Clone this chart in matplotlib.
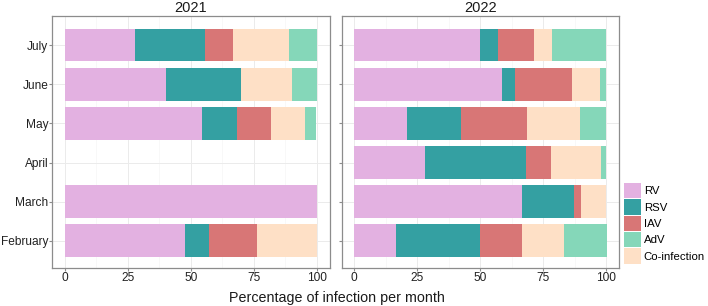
import numpy as np
import matplotlib
matplotlib.use("Agg")
import matplotlib.pyplot as plt
from matplotlib.patches import Patch

plt.rcParams["font.family"] = ["Liberation Sans", "DejaVu Sans"]

# months from bottom to top
months = ["February", "March", "April", "May", "June", "July"]
years = ["2021", "2022"]

# percentages per virus (stack order: RV, RSV, IAV, Co-infection, AdV)
rv_2021 = [47.6, 100, 0, 54.5, 40.0, 27.8]
rsv_2021 = [9.5, 0, 0, 13.6, 30.0, 27.8]
iav_2021 = [19.0, 0, 0, 13.6, 0, 11.1]
co_2021 = [23.8, 0, 0, 13.6, 20.0, 22.2]
adv_2021 = [0, 0, 0, 4.5, 10.0, 11.1]

rv_2022 = [16.7, 66.7, 28.0, 21.1, 58.5, 50.0]
rsv_2022 = [33.3, 20.5, 40.0, 21.1, 5.4, 7.1]
iav_2022 = [16.7, 2.6, 10.0, 26.3, 22.4, 14.3]
co_2022 = [16.7, 10.2, 20.0, 21.0, 11.1, 7.1]
adv_2022 = [16.7, 0, 2.0, 10.5, 2.6, 21.4]

virus_names = ["RV", "RSV", "IAV", "Co-infection", "AdV"]
farben = {"RV": "#E3B1E1", "RSV": "#34A0A2", "IAV": "#D87676",
          "AdV": "#85D7B9", "Co-infection": "#FEE0C6"}

daten = {
    "2021": [rv_2021, rsv_2021, iav_2021, co_2021, adv_2021],
    "2022": [rv_2022, rsv_2022, iav_2022, co_2022, adv_2022],
}

fig = plt.figure(figsize=(7.08, 3.06), dpi=100)
panel_x = [0.074, 0.4826]
panel_w = 0.3915
y0, y1 = 0.1242, 0.9477

pos = np.arange(1, len(months) + 1)
for i, rok in enumerate(years):
    ax = fig.add_axes([panel_x[i], y0, panel_w, y1 - y0])
    left = np.zeros(len(months))
    for name, vals in zip(virus_names, daten[rok]):
        vals = np.array(vals, dtype=float)
        ax.barh(pos, vals, left=left, height=0.84, color=farben[name],
                edgecolor="none", zorder=3)
        left += vals
    ax.set_xlim(-5, 105)
    ax.set_ylim(0.31, 6.74)
    ax.set_xticks([0, 25, 50, 75, 100])
    ax.set_xticks([12.5, 37.5, 62.5, 87.5], minor=True)
    ax.set_yticks(pos)
    ax.grid(which="major", color="#EBEBEB", linewidth=0.7, zorder=0)
    ax.grid(which="minor", axis="x", color="#F5F5F5", linewidth=0.5, zorder=0)
    for s in ax.spines.values():
        s.set_color("#8C8C8C")
        s.set_linewidth(0.9)
    ax.tick_params(axis="both", which="major", length=2, color="#8C8C8C",
                   labelsize=8.6, labelcolor="#222222", pad=1)
    ax.tick_params(axis="both", which="minor", length=0)
    if i == 0:
        ax.set_yticklabels(months)
    else:
        ax.set_yticklabels([])
    ax.set_title(rok, fontsize=10.5, pad=3, color="#1A1A1A")

fig.text(0.476, 0.026, "Percentage of infection per month", ha="center",
         va="center", fontsize=10.3, color="#1A1A1A")

legend_order = ["RV", "RSV", "IAV", "AdV", "Co-infection"]
handles = [Patch(facecolor=farben[n], edgecolor="none", label=n) for n in legend_order]
fig.legend(handles=handles, loc="upper left", bbox_to_anchor=(0.882, 0.402),
           frameon=False, fontsize=8.2, handlelength=1.45, handleheight=1.7,
           handletextpad=0.25, labelspacing=0.08, borderpad=0, borderaxespad=0)

fig.savefig("out.png", dpi=100)
